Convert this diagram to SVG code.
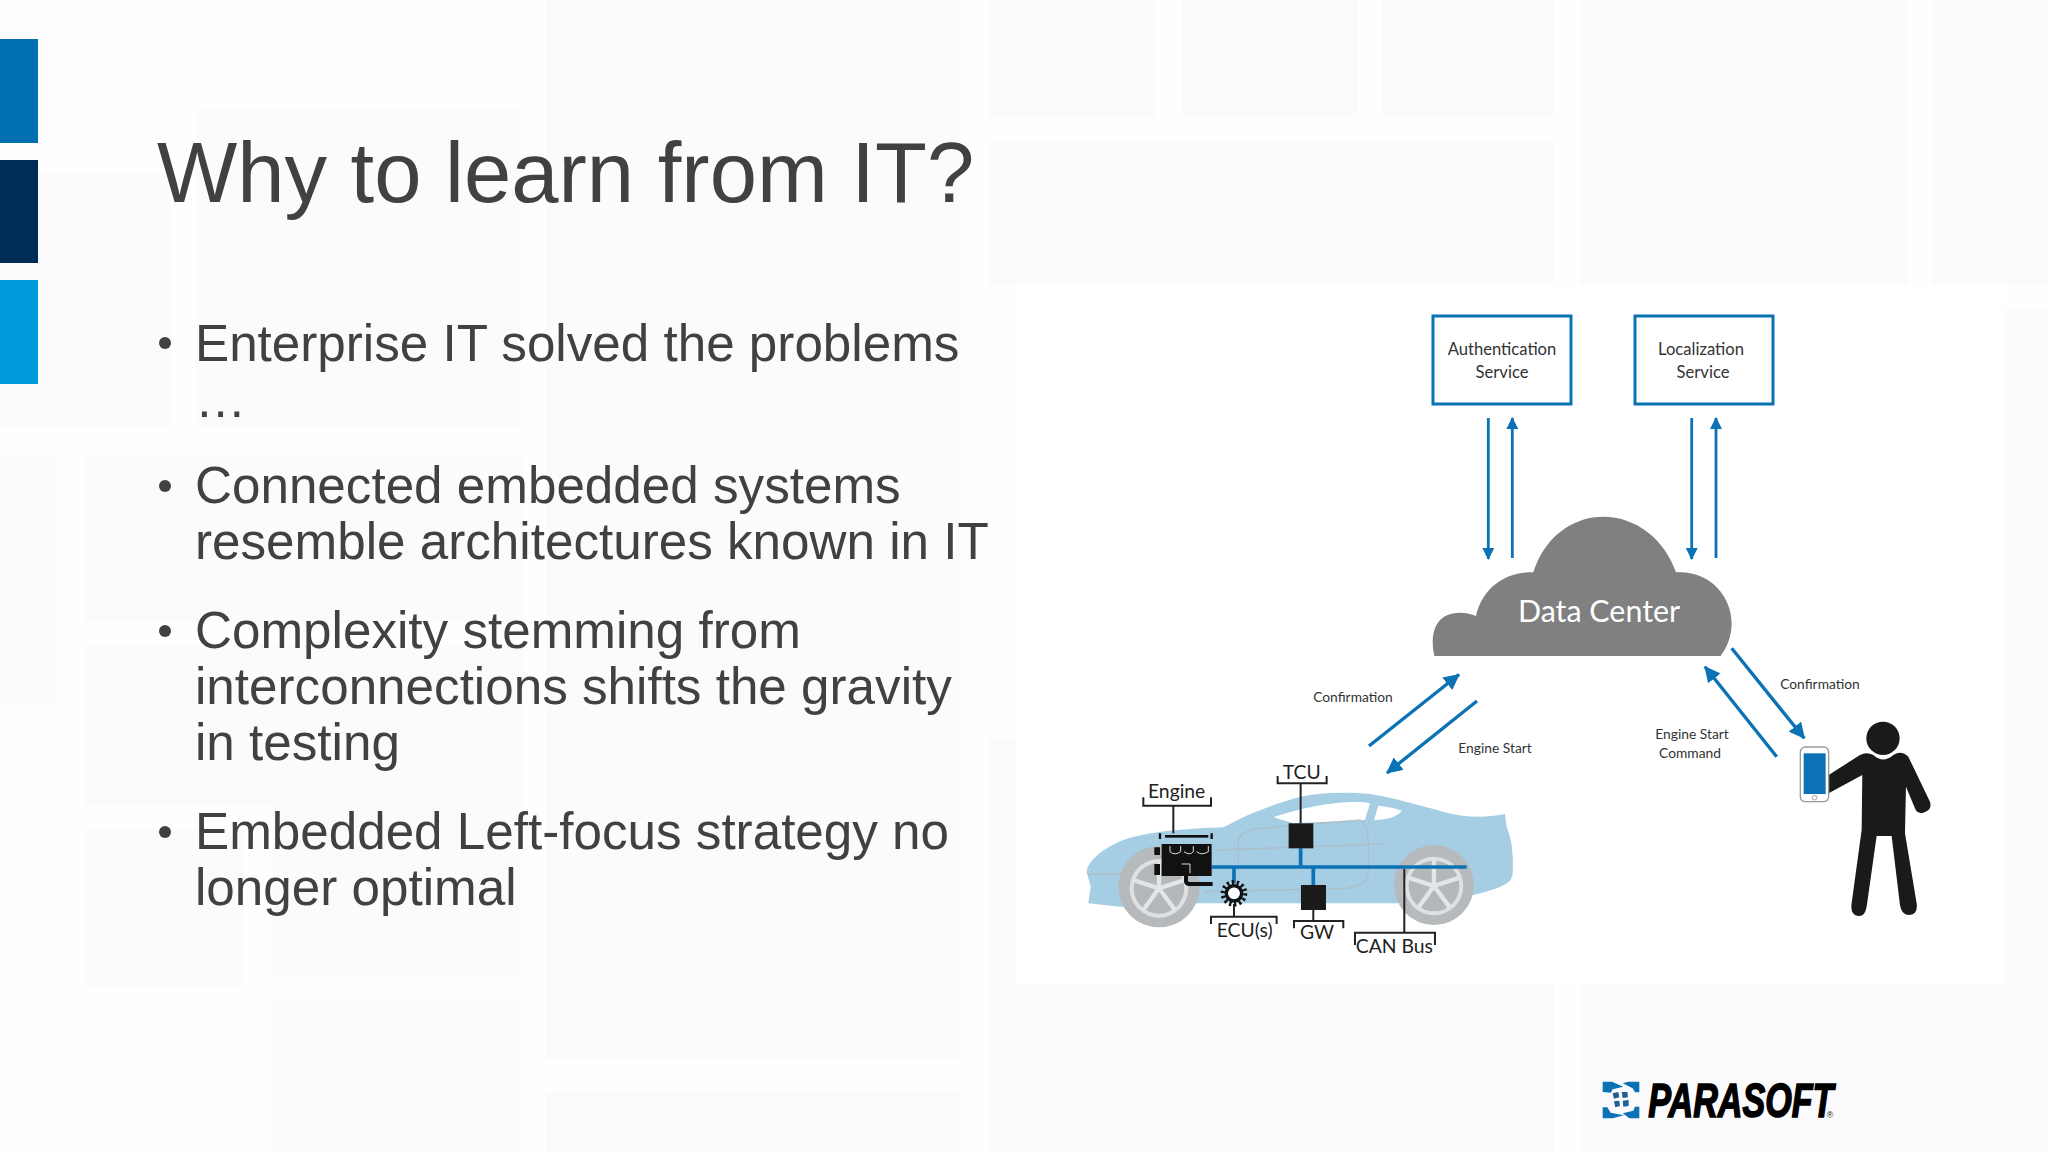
<svg xmlns="http://www.w3.org/2000/svg" width="2048" height="1152" viewBox="0 0 2048 1152">
<style>
.pale{fill:#fbfafc}
.title{font:85px "Liberation Sans",Arial,sans-serif;fill:#414042}
.body{font:51.2px "Liberation Sans",Arial,sans-serif;fill:#414042}
.lab{font-family:Lato,"Open Sans",sans-serif;fill:#333;font-size:13.8px;text-anchor:middle}
.svc{font-family:Lato,"Open Sans",sans-serif;fill:#333;font-size:16.6px;text-anchor:middle}
.car{font-family:Lato,"Open Sans",sans-serif;fill:#222;font-size:58px;text-anchor:middle}
.box{fill:#fff;stroke:#0b72b5;stroke-width:3}
.c{fill:none;stroke:#0b72b5;stroke-width:2.8}
.d{fill:none;stroke:#0b72b5;stroke-width:3.4}
.br{fill:none;stroke:#222;stroke-width:6}
.bus{fill:none;stroke:#0b72b5;stroke-width:11}
.ln{fill:none;stroke:#b2b7ba;stroke-width:4;opacity:.7}
</style>
<defs>
<marker id="ah" viewBox="0 0 12 12" refX="11" refY="6" markerUnits="userSpaceOnUse" markerWidth="12" markerHeight="12" orient="auto"><path d="M0,0L12,6L0,12Z" fill="#0b72b5"/></marker>
<marker id="ahb" viewBox="0 0 16 16" refX="15" refY="8" markerUnits="userSpaceOnUse" markerWidth="16" markerHeight="16" orient="auto"><path d="M0,0L16,8L0,16Z" fill="#0b72b5"/></marker>
</defs>
<rect width="2048" height="1152" fill="#fefefe"/>
<g id="background">
<rect class="pale" x="546" y="0" width="414" height="1060"/>
<rect class="pale" x="196" y="108" width="324" height="320"/>
<rect class="pale" x="0" y="172" width="171" height="256"/>
<rect class="pale" x="0" y="457" width="56" height="248"/>
<rect class="pale" x="84" y="457" width="440" height="165"/>
<rect class="pale" x="84" y="644" width="440" height="162"/>
<rect class="pale" x="84" y="830" width="160" height="158"/>
<rect class="pale" x="273" y="729" width="247" height="247"/>
<rect class="pale" x="273" y="1000" width="247" height="152"/>
<rect class="pale" x="546" y="1091" width="414" height="61"/>
<rect class="pale" x="989" y="0" width="167" height="118"/>
<rect class="pale" x="1182" y="0" width="176" height="118"/>
<rect class="pale" x="1382" y="0" width="172" height="118"/>
<rect class="pale" x="989" y="140" width="565" height="145"/>
<rect class="pale" x="1580" y="0" width="327" height="285"/>
<rect class="pale" x="1933" y="0" width="115" height="285"/>
<rect class="pale" x="989" y="738" width="30" height="414"/>
<rect class="pale" x="989" y="984" width="565" height="168"/>
<rect class="pale" x="1580" y="984" width="468" height="168"/>
<rect class="pale" x="2005" y="310" width="43" height="842"/>
<rect x="1015" y="285" width="990" height="699" fill="#fff"/>
</g>
<g id="accent-bars">
<rect x="0" y="39" width="38" height="104" fill="#0070b3"/>
<rect x="0" y="160" width="38" height="103" fill="#002d57"/>
<rect x="0" y="280" width="38" height="104" fill="#009bdb"/>
</g>
<text id="title" class="title" x="157" y="202">Why to learn from IT?</text>
<g id="bullets">
<circle cx="165" cy="343" r="6" fill="#414042"/>
<text class="body" x="195" y="361">Enterprise IT solved the problems</text>
<text class="body" x="195" y="417">…</text>
<circle cx="165" cy="486" r="6" fill="#414042"/>
<text class="body" x="195" y="503">Connected embedded systems</text>
<text class="body" x="195" y="559">resemble architectures known in IT</text>
<circle cx="165" cy="631" r="6" fill="#414042"/>
<text class="body" x="195" y="648">Complexity stemming from</text>
<text class="body" x="195" y="704">interconnections shifts the gravity</text>
<text class="body" x="195" y="760">in testing</text>
<circle cx="165" cy="832" r="6" fill="#414042"/>
<text class="body" x="195" y="849">Embedded Left-focus strategy no</text>
<text class="body" x="195" y="905">longer optimal</text>
</g>
<g id="auth-service">
<rect class="box" x="1433" y="316" width="138" height="88"/>
<text class="svc" x="1502" y="355">Authentication</text>
<text class="svc" x="1502" y="378">Service</text>
</g>
<g id="loc-service">
<rect class="box" x="1635" y="316" width="138" height="88"/>
<text class="svc" x="1701" y="355">Localization</text>
<text class="svc" x="1703" y="378">Service</text>
</g>
<g id="data-center">
<path transform="translate(1400 290) scale(.3333)" fill="#808080" d="M103,1098C90,1040 100,968 180,968C200,968 215,972 228,978C245,900 310,845 400,847C430,750 510,680 610,680C710,680 795,750 828,847C930,840 995,920 995,1000C995,1040 980,1075 962,1098Z"/>
<text x="1599" y="622" font-family="Lato,'Open Sans',sans-serif" font-size="30.4" fill="#fff" text-anchor="middle">Data Center</text>
</g>
<g id="connectors">
<path class="c" marker-end="url(#ah)" d="M1488.3,418V559"/>
<path class="c" marker-end="url(#ah)" d="M1512.3,558V418"/>
<path class="c" marker-end="url(#ah)" d="M1691.7,418V559"/>
<path class="c" marker-end="url(#ah)" d="M1716,558V418"/>
<path class="d" marker-end="url(#ahb)" d="M1731.7,648.3L1804.3,738.3"/>
<path class="d" marker-end="url(#ahb)" d="M1776.7,756.7L1705,666.7"/>
<path class="d" marker-end="url(#ahb)" d="M1369,746L1459,674.5"/>
<path class="d" marker-end="url(#ahb)" d="M1477,701L1387,773"/>
</g>
<g id="connector-labels">
<text class="lab" x="1353" y="702">Confirmation</text>
<text class="lab" x="1495" y="753">Engine Start</text>
<text class="lab" x="1820" y="689">Confirmation</text>
<text class="lab" x="1692" y="739">Engine Start</text>
<text class="lab" x="1690" y="758">Command</text>
</g>
<g id="car" transform="translate(1060 740) scale(.3333)">
<path fill="#a5cde4" d="M80,395C85,360 130,325 190,300C250,280 330,268 490,262C540,235 600,205 720,170C780,158 850,155 930,162C1000,172 1090,200 1150,215C1210,232 1270,235 1335,222L1340,260C1352,290 1362,330 1358,400C1355,425 1345,440 1240,465L1010,490L420,490L180,500L85,490L92,440Z"/>
<path fill="#fff" d="M640,232C720,205 800,190 860,187C890,185 915,186 930,190L915,240L700,250Z"/>
<path fill="#fff" d="M955,197C985,200 1010,205 1025,212C1015,228 990,238 942,240Z"/>
<path class="ln" d="M535,400V300Q540,272 600,265L900,240Q925,250 925,320V400Q920,435 860,445L430,455M470,330L970,312M80,402H180"/>
<g id="wheels">
<circle cx="297" cy="440" r="122" fill="#b7babc"/>
<circle cx="297" cy="445" r="88" fill="#dfe0e1"/>
<circle cx="297" cy="445" r="76" fill="#b4b8bb"/>
<path stroke="#e4e5e6" stroke-width="13" fill="none" d="M297,445V365M297,445L220,420M297,445L250,510M297,445L345,510M297,445L374,420"/>
<circle cx="1122" cy="435" r="120" fill="#b7babc"/>
<circle cx="1122" cy="438" r="88" fill="#dfe0e1"/>
<circle cx="1122" cy="438" r="76" fill="#b4b8bb"/>
<path stroke="#e4e5e6" stroke-width="13" fill="none" d="M1122,438V358M1122,438L1045,413M1122,438L1075,503M1122,438L1170,503M1122,438L1199,413"/>
</g>
<path class="bus" d="M455,381H1220M722,325V381M760,381V435M522,381V430"/>
<g id="engine">
<path class="br" d="M250,172V197H453V172M340,197V280"/>
<text class="car" x="350" y="175">Engine</text>
<path fill="none" stroke="#111" stroke-width="7" d="M300,280V297M455,280V297"/>
<rect x="315" y="285" width="130" height="8" fill="#111"/>
<path fill="#111" d="M305,312H455V408H305ZM283,322H300V345H283ZM283,372H300V405H283Z"/>
<path fill="none" stroke="#ddd" stroke-width="3" d="M330,318V335Q345,348 362,335V318M372,335Q390,348 400,335V318M410,335Q425,348 445,335V318M365,372H390V400"/>
<path fill="none" stroke="#111" stroke-width="12" d="M378,380V424Q378,432 390,432H458"/>
</g>
<g id="tcu">
<path class="br" d="M653,108V130H800V108M722,130V250"/>
<rect x="686" y="250" width="74" height="75" fill="#1a1a1a"/>
<text class="car" x="725" y="117">TCU</text>
</g>
<g id="ecu">
<circle cx="522" cy="460" r="29" fill="none" stroke="#111" stroke-width="22" stroke-dasharray="6 7"/>
<circle cx="522" cy="460" r="23" fill="none" stroke="#111" stroke-width="10"/>
<circle cx="522" cy="460" r="17" fill="#fff"/>
<path class="br" d="M522,492V530M453,552V530H650V552"/>
<text class="car" x="554" y="590">ECU(s)</text>
</g>
<g id="gw">
<rect x="723" y="435" width="75" height="75" fill="#1a1a1a"/>
<path class="br" d="M760,510V543M702,565V543H850V565"/>
<text class="car" x="771" y="598">GW</text>
</g>
<g id="can-bus">
<path class="br" d="M1033,387V578M885,615V578H1125V615"/>
<text class="car" x="1003" y="638">CAN Bus</text>
</g>
</g>
<g id="person" transform="translate(1600 640) scale(.3333)">
<circle cx="849" cy="295" r="50" fill="#1a1a1a"/>
<path fill="#1a1a1a" d="M686,405L780,345Q800,335 820,345Q850,372 880,345Q905,330 925,350L990,485Q998,510 970,518Q950,522 945,505L918,440L915,580L950,790Q955,825 925,825Q905,825 900,795L875,588H830L800,800Q795,830 775,828Q750,825 755,790L785,570L787,405L686,460Z"/>
<rect x="601" y="321" width="85" height="164" rx="15" fill="#fff" stroke="#999" stroke-width="4"/>
<rect x="611" y="340" width="66" height="122" fill="#0b72b5"/>
<circle cx="644" cy="473" r="7" fill="#fff" stroke="#777" stroke-width="2"/>
</g>
<g id="logo" transform="translate(1580 1060) scale(.3333)">
<path fill="#0b72b5" d="M68,65H96L130,80L98,88L92,98L68,96ZM145,65H178V97H165L158,85L128,70ZM68,142H82L92,158L132,166L98,175H68ZM178,175H148L128,160L160,152L165,140H178Z"/>
<path fill="#1f5f92" d="M98,100L115,96L118,112L102,116ZM125,96L142,96L144,112L128,114ZM102,124L118,122L120,138L106,142ZM128,122L146,120L146,138L130,140Z"/>
<text x="205" y="172" font-family="'Liberation Sans',Arial,sans-serif" font-size="146" font-weight="700" font-style="italic" fill="#000" stroke="#000" stroke-width="5" textLength="555" lengthAdjust="spacingAndGlyphs">PARASOFT</text>
<text x="740" y="174" font-family="'Liberation Sans',Arial,sans-serif" font-size="26" fill="#222">®</text>
</g>
</svg>
